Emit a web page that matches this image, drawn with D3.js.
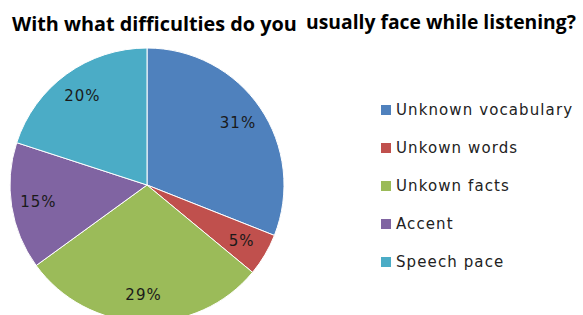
<!DOCTYPE html>
<html>
<head>
<meta charset="utf-8">
<script src="https://cdn.jsdelivr.net/npm/d3@7"></script>
<style>
  body { margin: 0; background: #fff; }
</style>
</head>
<body>
<div id="chart"></div>
<script>
const categories = ["Unknown vocabulary", "Unkown words", "Unkown facts", "Accent", "Speech pace"];
const values = [31, 5, 29, 15, 20];
const colors = ["#4F81BD", "#C0504D", "#9BBB59", "#8064A2", "#4BACC6"];
const titleParts = ["With what difficulties do you", "usually face while listening?"];

const width = 583, height = 315;
const cx = 147, cy = 185, radius = 137;

const svg = d3.select("#chart")
  .append("svg")
    .attr("width", width)
    .attr("height", height);

// titulo (con el hueco que tiene el original entre "you" y "usually")
// se comprime en x para imitar la fuente estrecha del original
const titlePos = [{ x: 12, y: 31, w: 285 }, { x: 306, y: 29, w: 270 }];
titleParts.forEach(function(t, i) {
  const p = titlePos[i];
  const txt = svg.append("text")
    .attr("font-family", "'Open Sans', sans-serif")
    .attr("font-weight", "bold")
    .attr("font-size", 20)
    .attr("fill", "#000")
    .text(t);
  const sx = p.w / txt.node().getComputedTextLength();
  txt.attr("transform", `translate(${p.x},${p.y}) scale(${sx},1)`);
});

const data = categories.map((c, i) => ({ name: c, value: values[i], color: colors[i] }));

const pie = d3.pie().sort(null).value(d => d.value);
const arc = d3.arc().innerRadius(0).outerRadius(radius);
const labelArc = d3.arc().innerRadius(110).outerRadius(110);

const g = svg.append("g")
  .attr("transform", `translate(${cx},${cy})`);

g.selectAll("path")
  .data(pie(data))
  .enter()
  .append("path")
    .attr("d", arc)
    .attr("fill", d => d.data.color)
    .attr("stroke", "#fff")
    .attr("stroke-width", 1);

g.selectAll("text")
  .data(pie(data))
  .enter()
  .append("text")
    .attr("transform", d => `translate(${labelArc.centroid(d)})`)
    .attr("dy", "0.35em")
    .attr("text-anchor", "middle")
    .attr("font-family", "'DejaVu Sans', sans-serif")
    .attr("font-size", 15)
    .attr("letter-spacing", 1)
    .attr("fill", "#1a1a1a")
    .text(d => d.data.value + "%");

// leyenda
const legendY = d3.scalePoint()
  .domain(categories)
  .range([110, 262]);

const legend = svg.append("g")
  .selectAll("g")
  .data(data)
  .enter()
  .append("g")
    .attr("transform", d => `translate(381,${legendY(d.name)})`);

legend.append("rect")
  .attr("x", 0).attr("y", -5)
  .attr("width", 10).attr("height", 10)
  .attr("fill", d => d.color);

legend.append("text")
  .attr("x", 15)
  .attr("dy", "0.36em")
  .attr("font-family", "'DejaVu Sans', sans-serif")
  .attr("font-size", 15)
  .attr("letter-spacing", 1.1)
  .attr("fill", "#222")
  .text(d => d.name);
</script>
</body>
</html>
